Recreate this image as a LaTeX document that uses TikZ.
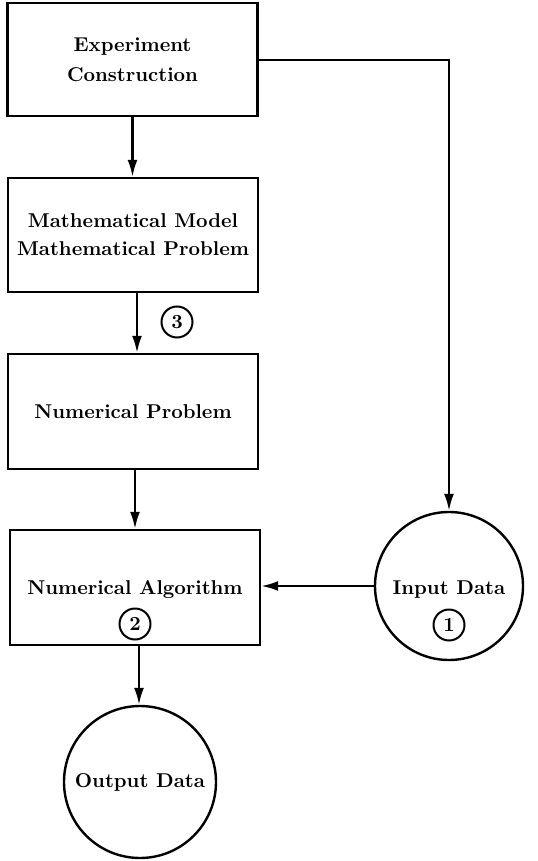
\documentclass[tikz,border=0pt]{standalone}
\usetikzlibrary{arrows.meta}
\begin{document}
\begin{tikzpicture}[x=0.5pt,y=-0.5pt,
  every node/.style={font=\bfseries},
  box/.style={draw,line width=1.2pt,minimum width=125pt,inner sep=0pt,align=center},
  blob/.style={draw,circle,line width=1.2pt,inner sep=0pt},
  num/.style={draw,circle,line width=1pt,minimum size=15.5pt,inner sep=0pt,font=\bfseries},
  lbl/.style={align=center},
  conn/.style={line width=1.1pt,-{Latex[length=8.5pt,width=5pt]}}]
\useasboundingbox (0,0) rectangle (537,861);
\node[box,minimum height=56.5pt] (exp) at (132.5,59.5) {Experiment\\[3pt]Construction};
\node[box,minimum height=57pt] (math) at (133,235) {Mathematical Model\\[2pt]Mathematical Problem};
\node[box,minimum height=57.5pt] (nprob) at (133,411.5) {Numerical Problem};
\node[box,minimum height=57.5pt] (nalg) at (135,587.5) {};
\node[lbl] (nalgt) at (135,590) {Numerical Algorithm};
\node[num] (n2) at (135,624) {2};
\node[blob,minimum size=74pt] (in) at (449,586) {};
\node[lbl] (int) at (449,590) {Input Data};
\node[num] (n1) at (449,625) {1};
\node[blob,minimum size=76pt] (out) at (140,782) {Output Data};
\node[num] (n3) at (177,322) {3};
\draw[conn] (exp.south) -- (exp.south |- math.north);
\draw[conn] ([xshift=2pt]math.south) -- ([xshift=2pt]math.south |- nprob.north);
\draw[conn] ([xshift=1pt]nprob.south) -- ([xshift=1pt]nprob.south |- nalg.north);
\draw[conn] ([xshift=2pt]nalg.south) -- ([xshift=2pt]nalg.south |- out.north);
\draw[conn] (in.west) -- (nalg.east |- in.west);
\draw[conn] (exp.east |- 0,60) -| (in.north);
\end{tikzpicture}
\end{document}
